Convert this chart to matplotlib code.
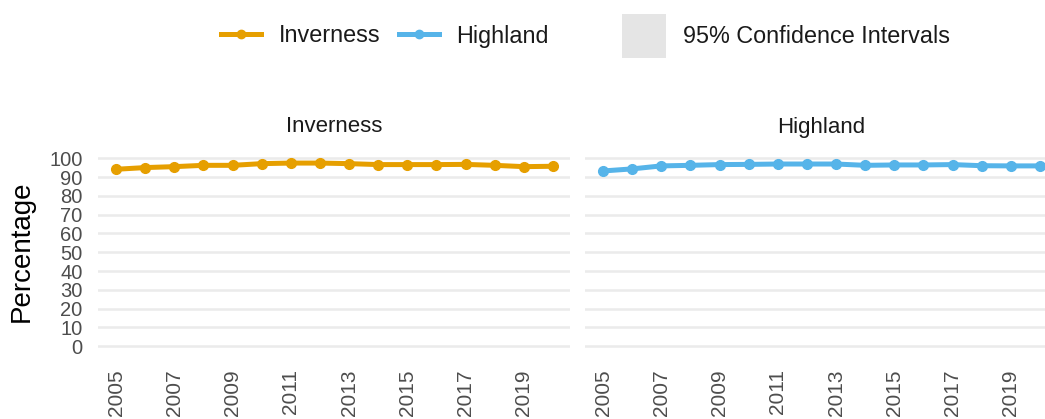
import matplotlib
matplotlib.use("Agg")
import matplotlib.pyplot as plt
from matplotlib.lines import Line2D
from matplotlib.patches import Patch

plt.rcParams['font.family'] = ['Liberation Sans', 'DejaVu Sans']

# Data
years = list(range(2005, 2021))
inverness = [94.2, 95.1, 95.6, 96.3, 96.3, 97.2, 97.5, 97.5, 97.2, 96.7, 96.7, 96.7, 96.8, 96.3, 95.6, 95.8]
highland = [93.3, 94.4, 96.0, 96.3, 96.7, 96.8, 97.0, 97.0, 97.0, 96.3, 96.5, 96.5, 96.7, 96.1, 96.0, 96.0]
panels = ["Inverness", "Highland"]
y_ticks = list(range(0, 101, 10))
x_ticks = list(range(2005, 2020, 2))

COLORS = {'Inverness': '#E69F00', 'Highland': '#56B4E9'}
GRID = '#EBEBEB'
TICK_COL = '#4D4D4D'

W, H = 1045, 419
fig = plt.figure(figsize=(W / 100, H / 100), dpi=100)

# axes boxes in pixels (left, top, right, bottom)
boxes = [(98, 149, 570, 355.5), (585, 149, 1057, 355.5)]
series = {'Inverness': inverness, 'Highland': highland}

for name, (l, t, r, b) in zip(panels, boxes):
    ax = fig.add_axes([l / W, 1 - b / H, (r - l) / W, (b - t) / H])
    ax.plot(years, series[name], color=COLORS[name], linewidth=3.6,
            marker='o', markersize=7, solid_capstyle='round')
    ax.set_xlim(2004.38, 2020.585)
    ax.set_ylim(-5, 105)
    ax.set_yticks(y_ticks)
    ax.set_xticks(x_ticks)
    ax.set_xticklabels([str(x) for x in x_ticks], rotation=90)
    ax.grid(axis='y', color=GRID, linewidth=1.8)
    ax.grid(axis='x', visible=False)
    ax.set_axisbelow(True)
    for s in ax.spines.values():
        s.set_visible(False)
    ax.tick_params(axis='both', length=0, labelcolor=TICK_COL)
    ax.tick_params(axis='y', pad=11, labelsize=14.5)
    ax.tick_params(axis='x', pad=10, labelsize=15)
    if name == 'Highland':
        ax.set_yticklabels([])
    ax.text(0.5, 1 + (149 - 127) / (b - t), name, transform=ax.transAxes,
            ha='center', va='center', fontsize=16, color='#1A1A1A')

fig.text(22 / W, 1 - 251 / H, "Percentage", rotation=90, ha='center',
         va='center', fontsize=20, color='black')

line_handles = [Line2D([], [], color=COLORS[n], linewidth=3.6, marker='o', markersize=6)
                for n in panels]
leg1 = fig.legend(line_handles, panels, loc='center', bbox_to_anchor=(385 / W, 1 - 36 / H),
                  ncol=2, frameon=False, fontsize=16.8, handlelength=1.7,
                  handletextpad=0.75, columnspacing=0.8)
leg2 = fig.legend([Patch(facecolor='#E5E5E5', edgecolor='none')], ["95% Confidence Intervals"],
                  loc='center', bbox_to_anchor=(786 / W, 1 - 36 / H), frameon=False,
                  fontsize=16.8, handlelength=1.9, handleheight=2.5, handletextpad=0.72)
for leg in (leg1, leg2):
    for txt in leg.get_texts():
        txt.set_color('#1A1A1A')

fig.savefig("out.png", dpi=100)
